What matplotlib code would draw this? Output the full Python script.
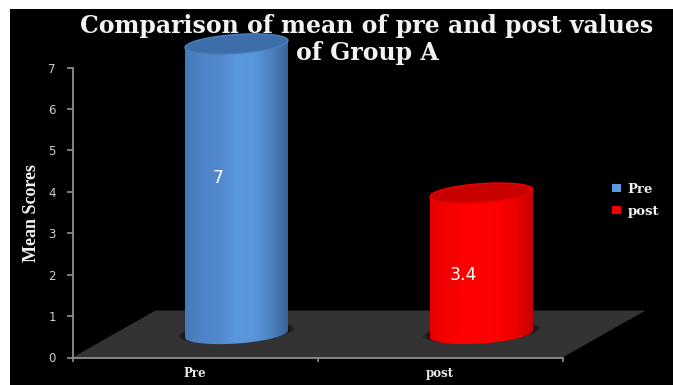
import numpy as np
import matplotlib
matplotlib.use("Agg")
import matplotlib.pyplot as plt
from matplotlib.colors import LinearSegmentedColormap
from matplotlib.patches import Polygon, Rectangle, Patch

categories = ["Pre", "post"]
values = [7, 3.4]
y_ticks = [0, 1, 2, 3, 4, 5, 6, 7]

body_colors = [
    ["#4478b8", "#4f85c8", "#5288cc", "#5a98de", "#5896dc", "#4d84c2", "#3a6494"],
    ["#e40000", "#f40000", "#ff0000", "#ff0000", "#fc0000", "#ec0000", "#c40000"],
]
top_colors = ["#3d6ea9", "#c80000"]
rim_colors = ["#4a7fbe", "#ec0000"]
legend_colors = ["#5b9ae2", "#f00000"]
label_shift = [11, -11]

W, H = 673, 385
fig = plt.figure(figsize=(W / 100, H / 100), dpi=100, facecolor="white")
fig.add_artist(Rectangle((10 / W, 0), 1, (H - 9) / H, transform=fig.transFigure,
                         facecolor="black", edgecolor="none", zorder=-5))

ax = fig.add_axes([72.5 / W, (H - 357.5) / H, 490 / W, 290 / H])
ax.patch.set_alpha(0)

# pixel sizes of one data unit
ux = 245.0
uy = 290.0 / 7
# floor depth in data units
depth_x = 83 / ux
depth_y = 47 / uy

floor = Polygon([(0, 0), (2, 0), (2 + depth_x, depth_y), (depth_x, depth_y)],
                facecolor="#333333", edgecolor="none", clip_on=False, zorder=1)
ax.add_patch(floor)

a = 51.5 / ux
b = 9.5 / uy
k = 3.5 / uy


def ring(cx, cy, t):
    return np.column_stack([cx + a * np.cos(t),
                            cy + b * np.sin(t) + k * np.cos(t)])


xpos = [0.5, 1.5]
for i, v in enumerate(values):
    cx = xpos[i] + depth_x / 2
    base = depth_y / 2
    top = base + v

    # soft shadow on the floor
    t = np.linspace(0, 2 * np.pi, 120)
    for grow, al in [(1.14, 0.2), (1.09, 0.25), (1.04, 0.35)]:
        pts = ring(cx, base, t)
        pts[:, 0] = cx + (pts[:, 0] - cx) * grow
        pts[:, 1] = base + 0.04 + (pts[:, 1] - base) * grow
        ax.add_patch(Polygon(pts, facecolor="black", alpha=al, edgecolor="none",
                             clip_on=False, zorder=2))

    # cylinder body with a horizontal gradient
    lower = ring(cx, base, np.linspace(np.pi, 2 * np.pi, 80))
    upper = ring(cx, top, np.linspace(0, np.pi, 80))
    outline = Polygon(np.vstack([lower, upper]), facecolor="none", edgecolor="none",
                      clip_on=False, zorder=3)
    ax.add_patch(outline)
    cmap = LinearSegmentedColormap.from_list("body%d" % i, body_colors[i])
    grad = np.linspace(0, 1, 256).reshape(1, -1)
    im = ax.imshow(grad, cmap=cmap, aspect="auto", zorder=3, interpolation="bilinear",
                   extent=[cx - a, cx + a, base - 2 * b, top + 2 * b])
    im.set_clip_box(fig.bbox)
    im.set_clip_path(outline)

    # top face
    ax.add_patch(Polygon(ring(cx, top, t), facecolor=top_colors[i], edgecolor=rim_colors[i],
                         linewidth=1.0, clip_on=False, zorder=4))

    ax.annotate(str(v), (cx, top / 2 + base / 2), xytext=(-18, label_shift[i]),
                textcoords="offset pixels", ha="center", va="center",
                color="white", fontsize=12.5, family="DejaVu Sans", zorder=5)

ax.set_xlim(0, 2)
ax.set_ylim(0, 7)

ax.set_yticks(y_ticks)
ax.set_xticks([0, 1, 2])
ax.set_xticklabels([])
ax.set_xticks(xpos, minor=True)
ax.set_xticklabels(categories, minor=True, family="DejaVu Serif", weight="bold",
                   fontsize=8.5, color="#e8e8e8")
ax.tick_params(axis="x", which="minor", length=0, pad=6.5)
ax.tick_params(axis="x", which="major", length=3, color="#909090", width=1.2)
ax.tick_params(axis="y", length=4, color="#909090", width=1.2, pad=8,
               labelcolor="#cfcfcf", labelsize=8.5)
for side in ["top", "right"]:
    ax.spines[side].set_visible(False)
for side in ["left", "bottom"]:
    ax.spines[side].set_color("#909090")
    ax.spines[side].set_linewidth(1.3)
    ax.spines[side].set_zorder(6)

fig.text(367 / W, 1 - 26 / H, "Comparison of mean of pre and post values",
         ha="center", va="center", family="DejaVu Serif", weight="bold",
         fontsize=17, color="#f2f2f2", zorder=10)
fig.text(367 / W, 1 - 53 / H, "of Group A",
         ha="center", va="center", family="DejaVu Serif", weight="bold",
         fontsize=17, color="#f2f2f2", zorder=10)
fig.text(31 / W, 1 - 213 / H, "Mean Scores", rotation=90,
         ha="center", va="center", family="Liberation Serif", weight="bold",
         fontsize=13, color="#f2f2f2")

handles = [Patch(facecolor=c, edgecolor="none", label=n)
           for c, n in zip(legend_colors, categories)]
fig.legend(handles=handles, loc="center left", bbox_to_anchor=(600 / W, 1 - 200.5 / H),
           frameon=False, handlelength=0.7, handleheight=0.55, handletextpad=0.5,
           labelspacing=0.7, labelcolor="#f0f0f0",
           prop={"family": "DejaVu Serif", "weight": "bold", "size": 9.5})

fig.savefig("out.png", dpi=100)
